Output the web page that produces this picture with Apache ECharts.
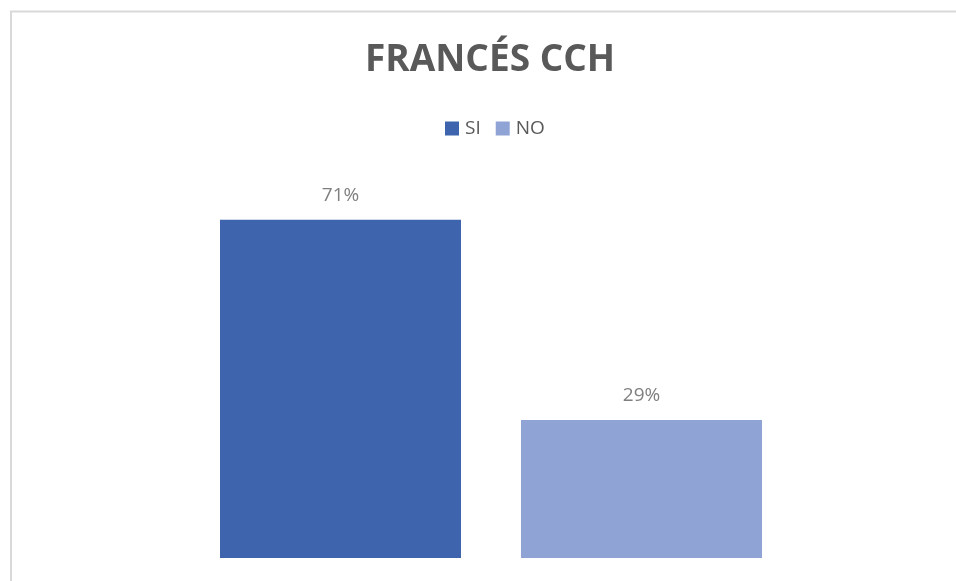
<!DOCTYPE html>
<html lang="es">
<head>
    <meta charset="UTF-8">
    <title>FRANCÉS CCH</title>
    <script src="https://cdn.jsdelivr.net/npm/echarts@6.0.0/dist/echarts.min.js"></script>
    <style>
        * { margin: 0; padding: 0; box-sizing: border-box; }
        html, body { width: 100%; height: 100%; background: #fff; overflow: hidden; }
        #chart { width: 956px; height: 581px; }
    </style>
</head>
<body>
    <div id="chart"></div>
    <script>
        // datos del gráfico
        const categories = [''];
        const seriesNames = ['SI', 'NO'];
        const siValues = [71];
        const noValues = [29];
        const seriesColors = ['#3D64AD', '#8FA3D4'];

        const chart = echarts.init(document.getElementById('chart'), null, { renderer: 'canvas' });

        const labelStyle = {
            show: true,
            position: 'top',
            distance: 15,
            color: '#7F7F7F',
            fontSize: 19,
            fontFamily: 'Open Sans',
            formatter: p => p.value + '%'
        };

        chart.setOption({
            animation: false,
            backgroundColor: '#fff',
            title: {
                text: 'FRANCÉS CCH',
                left: 360,
                top: 37,
                textStyle: {
                    color: '#595959',
                    fontSize: 37,
                    fontWeight: 'bold',
                    fontFamily: 'Open Sans'
                }
            },
            legend: {
                data: seriesNames,
                top: 114,
                left: 440,
                itemWidth: 14,
                itemHeight: 14,
                itemGap: 15,
                icon: 'rect',
                textStyle: { color: '#595959', fontSize: 19, fontFamily: 'Open Sans', padding: [0, 0, 0, 1] }
            },
            graphic: [{
                type: 'rect',
                silent: true,
                shape: { x: 11, y: 11.5, width: 1200, height: 800 },
                style: { fill: 'none', stroke: '#D9D9D9', lineWidth: 2 }
            }],
            grid: { left: 40, right: 14, top: 177, bottom: 23 },
            xAxis: {
                type: 'category',
                data: categories,
                axisLine: { show: false },
                axisTick: { show: false },
                axisLabel: { show: false }
            },
            yAxis: {
                type: 'value',
                min: 0,
                max: 80,
                show: false,
                splitLine: { show: false }
            },
            series: [
                {
                    name: seriesNames[0],
                    type: 'bar',
                    data: siValues,
                    barWidth: 241,
                    barGap: '24.9%',
                    itemStyle: { color: seriesColors[0] },
                    label: labelStyle
                },
                {
                    name: seriesNames[1],
                    type: 'bar',
                    data: noValues,
                    barWidth: 241,
                    itemStyle: { color: seriesColors[1] },
                    label: labelStyle
                }
            ]
        });
    </script>
</body>
</html>
